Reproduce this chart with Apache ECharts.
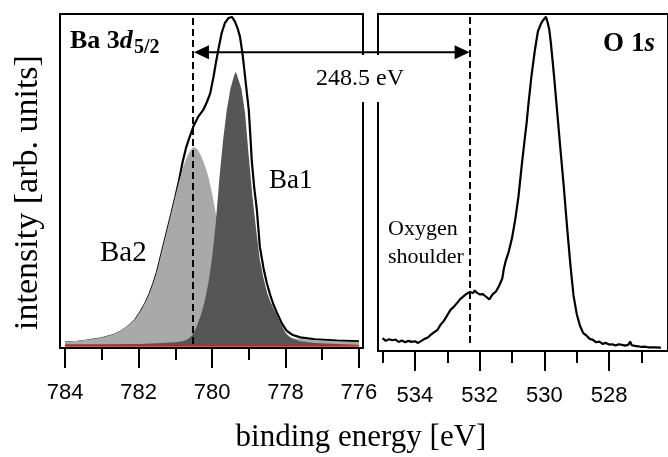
<!DOCTYPE html>
<html><head><meta charset="utf-8">
<script src="https://cdn.jsdelivr.net/npm/echarts@6/dist/echarts.min.js"></script>
<style>html,body{margin:0;padding:0;background:#fff}#c{width:668px;height:457px}</style>
</head><body><div id="c"></div>
<script>
// ---- Ba 3d5/2 panel (binding energy [eV], intensity) ----
const baEnvelope = [
  [784.0,1.0],[783.7,1.2],[783.4,1.6],[783.0,2.3],[782.7,3.2],[782.5,4.2],[782.3,5.7],[782.1,7.7],
  [781.95,10.2],[781.8,13.2],[781.7,15.7],[781.6,18.7],[781.5,22.2],[781.4,26.7],[781.3,31.2],
  [781.2,35.7],[781.1,40.2],[781.0,44.8],[780.9,49.8],[780.8,55.5],[780.7,60],[780.64,62],
  [780.51,66.1],[780.38,69],[780.24,71.1],[780.14,73.5],[780.05,76.1],[779.96,81.1],[779.9,85],
  [779.83,89.2],[779.74,94.2],[779.65,97.3],[779.55,98.8],[779.46,99.1],[779.38,97.8],[779.3,95.5],
  [779.24,93.2],[779.17,88],[779.10,81.1],[779.05,76],[779.0,71.1],[778.95,62],[778.92,56],
  [778.85,47.5],[778.78,41],[778.7,30],[778.6,23.5],[778.51,19],[778.42,15.5],[778.33,12.5],
  [778.24,10.2],[778.1,6.8],[777.97,4.6],[777.8,3.3],[777.6,2.6],[777.2,2.0],[776.6,1.6],[776.0,1.4]
];
const ba1 = [
  [784.0,0.5],[783.0,0.5],[782.0,0.6],[781.5,0.8],[781.0,1.1],[780.8,1.4],[780.7,1.8],[780.6,2.6],
  [780.5,4.0],[780.42,5.8],[780.3,9.5],[780.2,13.5],[780.1,19],[780.0,26.5],[779.9,37],[779.8,50.5],
  [779.7,62],[779.6,71],[779.5,77.5],[779.4,81.5],[779.35,82.6],[779.3,82],[779.2,77.5],[779.1,70],
  [779.0,57],[778.9,45],[778.8,35],[778.7,26],[778.6,20.5],[778.5,16],[778.4,13],[778.3,10.8],
  [778.2,8.8],[778.1,6.2],[778.0,4.0],[777.9,2.9],[777.8,2.2],[777.6,1.4],[777.2,0.9],[776.6,0.6],[776.0,0.4]
];
const ba2 = [
  [784.0,1.3],[783.7,1.5],[783.4,1.9],[783.0,2.6],[782.7,3.5],[782.5,4.5],[782.3,6.0],[782.1,8.0],
  [781.95,10.5],[781.8,13.5],[781.7,16],[781.6,19],[781.5,22.5],[781.4,27],[781.3,31.5],[781.2,36],
  [781.1,40.5],[781.0,45],[780.9,49.5],[780.8,53.5],[780.7,56.5],[780.6,58.8],[780.5,60],[780.4,59.3],
  [780.3,57.3],[780.2,54.5],[780.1,51],[780.0,46],[779.9,40],[779.8,35],[779.7,30],[779.6,25],
  [779.5,20.5],[779.4,17],[779.3,14],[779.2,11.5],[779.1,9.5],[779.0,8],[778.8,6],[778.6,4.5],
  [778.4,3.6],[778.2,3.0],[778.0,2.6],[777.6,2.1],[777.2,1.8],[776.6,1.4],[776.0,1.2]
];
const baBackground = [[784,0],[776,0]];

// ---- O 1s panel ----
const o1s = [
  [535.0,3.8],[534.9,3.0],[534.8,3.5],[534.7,3.2],[534.6,3.4],[534.5,2.7],[534.4,3.1],[534.3,2.6],
  [534.2,3.0],[534.1,2.7],[534.0,2.9],[533.9,2.4],[533.8,3.0],[533.7,3.6],[533.6,4.0],[533.5,4.9],
  [533.4,5.6],[533.3,6.3],[533.2,7.9],[533.1,9.0],[533.0,10.6],[532.9,12.2],[532.8,13.1],[532.7,14.2],
  [532.6,15.4],[532.5,16.2],[532.4,17.0],[532.3,17.5],[532.2,17.2],[532.15,18.0],[532.1,17.4],
  [532.0,16.8],[531.9,16.9],[531.8,16.1],[531.7,15.3],[531.6,16.8],[531.5,17.6],[531.4,19.3],
  [531.3,21.5],[531.25,24.5],[531.2,26.5],[531.1,29.5],[531.0,33.5],[530.9,39.0],[530.8,45.8],
  [530.7,55.0],[530.6,63.5],[530.55,67.5],[530.5,72.5],[530.4,81.5],[530.3,88.8],[530.2,94.8],
  [530.1,97.2],[530.05,98.0],[530.0,97.6],[529.95,99.2],[529.9,97.5],[529.85,95.5],[529.8,91.5],
  [529.7,81.5],[529.6,70.5],[529.5,59.5],[529.4,48.8],[529.3,37],[529.2,26],[529.1,16.5],[529.0,11],
  [528.9,7.5],[528.8,5.3],[528.7,4.6],[528.6,3.6],[528.5,3.3],[528.4,2.6],[528.3,2.8],[528.2,2.1],
  [528.1,2.4],[528.0,1.9],[527.9,2.0],[527.8,1.6],[527.7,2.0],[527.6,1.8],[527.5,1.6],[527.4,1.9],
  [527.35,2.8],[527.3,1.7],[527.2,1.5],[527.1,1.4],[527.0,1.2],[526.9,1.3],[526.8,1.1],[526.6,1.1],[526.4,1.0]
];

// ---- axes / annotations ----
const baMajorTicks = [784,782,780,778,776];
const baMinorTicks = [783,781,779,777];
const oMajorTicks = [534,532,530,528,526];
const oMinorTicks = [535,533,531,529,527];
const baRange = [775.89, 784.14];
const oRange = [526.18, 535.14];
const baMarker = 780.52;
const oMarker = 532.31;
const arrowLevel = 88.5;
const separationLabel = '248.5 eV';

const SERIF = '"Liberation Serif", "Times New Roman", serif';
const SANS = '"Liberation Sans", Arial, sans-serif';

function majorAxis(grid, range, ticks) {
  return {
    type: 'value', gridIndex: grid, min: range[0], max: range[1], inverse: true, position: 'bottom',
    axisLine: {show: true, onZero: false, lineStyle: {color: '#000', width: 2}},
    axisTick: {show: true, inside: false, length: 20, customValues: ticks, lineStyle: {color: '#000', width: 2}},
    axisLabel: {show: true, customValues: ticks, margin: 34, color: '#000', fontFamily: SANS, fontSize: 22},
    splitLine: {show: false}
  };
}
function minorAxis(grid, range, ticks) {
  return {
    type: 'value', gridIndex: grid, min: range[0], max: range[1], inverse: true, position: 'bottom',
    axisLine: {show: false, onZero: false},
    axisTick: {show: true, inside: false, length: 12, customValues: ticks, lineStyle: {color: '#000', width: 2}},
    axisLabel: {show: false},
    splitLine: {show: false}
  };
}
const dashed = {color: '#000', width: 2, type: [7, 4]};

const chart = echarts.init(document.getElementById('c'), null, {renderer: 'canvas'});
const option = {
  animation: false,
  backgroundColor: '#fff',
  grid: [
    {left: 60, top: 14, width: 303, height: 334, show: true, borderColor: '#000', borderWidth: 2, backgroundColor: 'transparent'},
    {left: 378, top: 14, width: 320, height: 337, show: true, borderColor: '#000', borderWidth: 2, backgroundColor: 'transparent'}
  ],
  xAxis: [
    majorAxis(0, baRange, baMajorTicks),
    minorAxis(0, baRange, baMinorTicks),
    majorAxis(1, oRange, oMajorTicks),
    minorAxis(1, oRange, oMinorTicks)
  ],
  yAxis: [
    {type: 'value', gridIndex: 0, min: -0.6, max: 100, show: false},
    {type: 'value', gridIndex: 1, min: 0, max: 100, show: false}
  ],
  series: [
    {type: 'line', xAxisIndex: 0, yAxisIndex: 0, data: baEnvelope, showSymbol: false, z: 2,
     lineStyle: {color: '#000', width: 2.2}},
    {type: 'line', xAxisIndex: 0, yAxisIndex: 0, data: ba2, showSymbol: false, z: 3,
     lineStyle: {width: 0}, areaStyle: {color: '#a9a9a9', opacity: 1}},
    {type: 'line', xAxisIndex: 0, yAxisIndex: 0, data: ba1, showSymbol: false, z: 4,
     lineStyle: {width: 0}, areaStyle: {color: '#565656', opacity: 1}},
    {type: 'line', xAxisIndex: 0, yAxisIndex: 0, data: baBackground, showSymbol: false, z: 5,
     lineStyle: {color: '#e8100c', width: 1.5},
     markLine: {silent: true, symbol: ['none', 'none'], label: {show: false}, lineStyle: dashed,
       data: [[{coord: [baMarker, 0.6]}, {coord: [baMarker, 100]}]]}},
    {type: 'line', xAxisIndex: 2, yAxisIndex: 1, data: o1s, showSymbol: false, z: 5,
     lineStyle: {color: '#000', width: 2.2},
     markLine: {silent: true, symbol: ['none', 'none'], label: {show: false}, lineStyle: dashed,
       data: [[{coord: [oMarker, 2.4]}, {coord: [oMarker, 100]}]]}}
  ]
};
chart.setOption(option);

const lx = chart.convertToPixel({xAxisIndex: 0}, baMarker) + 1;
const rx = chart.convertToPixel({xAxisIndex: 2}, oMarker);
const ay = chart.convertToPixel({yAxisIndex: 0}, arrowLevel);

function txt(x, y, text, font, align, extra) {
  return Object.assign({type: 'text', x: x, y: y, z: 102,
    style: {text: text, font: font, fill: '#000', align: align, textAlign: align,
      verticalAlign: 'middle', textVerticalAlign: 'middle'}}, extra || {});
}

chart.setOption({
  graphic: [
    {type: 'rect', z: 100, shape: {x: 311, y: 55, width: 98, height: 47}, style: {fill: '#fff'}},
    {type: 'line', z: 101, shape: {x1: lx + 12, y1: ay, x2: rx - 12, y2: ay}, style: {stroke: '#000', lineWidth: 2}},
    {type: 'polygon', z: 101, shape: {points: [[lx, ay], [lx + 15, ay - 7], [lx + 15, ay + 7]]}, style: {fill: '#000'}},
    {type: 'polygon', z: 101, shape: {points: [[rx, ay], [rx - 15, ay - 7], [rx - 15, ay + 7]]}, style: {fill: '#000'}},
    txt(360, 79, separationLabel, '24px ' + SERIF, 'center'),
    {type: 'text', x: 70, y: 41.2, z: 102, style: {
      text: '{b|Ba 3}{bi|d}', align: 'left', textAlign: 'left', verticalAlign: 'middle', textVerticalAlign: 'middle',
      rich: {b: {font: 'bold 26px ' + SERIF, fill: '#000'}, bi: {font: 'italic bold 26px ' + SERIF, fill: '#000'}}}},
    txt(134, 48.2, '5/2', 'bold 20px ' + SERIF, 'left'),
    txt(603, 44, 'O', 'bold 27px ' + SERIF, 'left'),
    {type: 'text', x: 631, y: 44, z: 102, style: {
      text: '{b|1}{bi|s}', align: 'left', textAlign: 'left', verticalAlign: 'middle', textVerticalAlign: 'middle',
      rich: {b: {font: 'bold 27px ' + SERIF, fill: '#000'}, bi: {font: 'italic bold 27px ' + SERIF, fill: '#000'}}}},
    txt(269, 180.8, 'Ba1', '27px ' + SERIF, 'left'),
    txt(100, 253, 'Ba2', '29px ' + SERIF, 'left'),
    txt(388, 229.5, 'Oxygen', '22px ' + SERIF, 'left'),
    txt(388, 257.5, 'shoulder', '22px ' + SERIF, 'left'),
    txt(361, 437.5, 'binding energy [eV]', '31px ' + SERIF, 'center'),
    txt(28.5, 192.5, 'intensity [arb. units]', '34px ' + SERIF, 'center', {rotation: Math.PI / 2})
  ]
});
</script></body></html>
